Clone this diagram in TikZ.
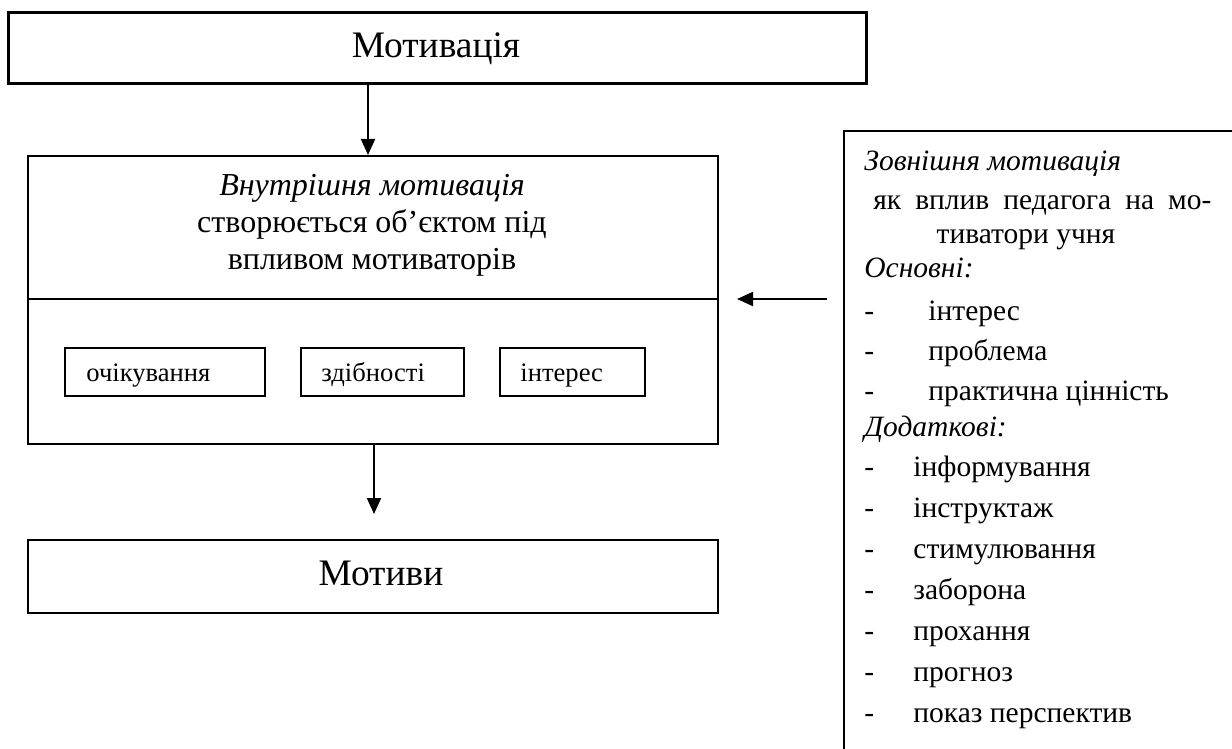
\documentclass[tikz,border=0pt]{standalone}
\usepackage{fontspec}
\setmainfont{Liberation Serif}
\usetikzlibrary{arrows.meta,calc}
\begin{document}
\begin{tikzpicture}[x=0.5pt,y=-0.5pt,
  box/.style={draw, line width=1pt, inner sep=0pt, anchor=north west},
  arr/.style={line width=1pt, -{Triangle[length=8pt,width=7pt]}},
  big/.style={font=\fontsize{18.7}{21}\selectfont, anchor=base, inner sep=0pt},
  mtext/.style={font=\fontsize{16}{18.5}\selectfont, anchor=base, inner sep=0pt},
  stext/.style={font=\fontsize{13.3}{15}\selectfont, anchor=base west, inner sep=0pt},
  rtext/.style={font=\fontsize{14.75}{17}\selectfont, anchor=base west, inner sep=0pt},
]
\useasboundingbox (0,0) rectangle (1232,749);
\clip (0,0) rectangle (1232,749);

% top box
\node[box, line width=1.5pt, minimum width=429pt, minimum height=35.5pt] (top) at (7,11) {};
\node[big] (topt) at (436,58) {Мотивація};

% middle box
\node[box, minimum width=345pt, minimum height=144pt] (mid) at (27,155) {};
\coordinate (dv) at (0,299);
\draw[line width=1pt] (mid.west |- dv) -- (mid.east |- dv);
\node[mtext] (m1) at (372,195) {\itshape Внутрішня мотивація};
\node[mtext] (m2) at (372,232) {створюється об’єктом під};
\node[mtext] (m3) at (372,269) {впливом мотиваторів};

% small boxes
\node[box, minimum width=100pt, minimum height=24pt] (b1) at (64,347) {};
\node[stext] (b1t) at (86,381) {очікування};
\node[box, minimum width=81.5pt, minimum height=24pt] (b2) at (300,347) {};
\node[stext] (b2t) at (321,381) {здібності};
\node[box, minimum width=72.5pt, minimum height=24pt] (b3) at (499,347) {};
\node[stext] (b3t) at (520,381) {інтерес};

% bottom box
\node[box, minimum width=345pt, minimum height=36.5pt] (bot) at (27,539) {};
\node[big] (bott) at (381,585) {Мотиви};

% right box (cut by the page edges)
\node[box, minimum width=400pt, minimum height=340pt] (ext) at (843,130) {};
\node[rtext] (r1) at (864,170) {\itshape Зовнішня мотивація};
\node[rtext] (r2) at (873,209) {\makebox[169pt][s]{як вплив педагога на мо-}};
\node[rtext, anchor=base] (r3) at (1026,243) {тиватори учня};
\node[rtext] (r4) at (864,278) {\itshape Основні:};
\node[rtext] (r5) at (864,320) {\makebox[32pt][l]{-}інтерес};
\node[rtext] (r6) at (864,360) {\makebox[32pt][l]{-}проблема};
\node[rtext] (r7) at (864,400) {\makebox[32pt][l]{-}практична цінність};
\node[rtext] (r8) at (864,436) {\itshape Додаткові:};
\node[rtext] (r9) at (864,476) {\makebox[24.5pt][l]{-}інформування};
\node[rtext] (r10) at (864,517) {\makebox[24.5pt][l]{-}інструктаж};
\node[rtext] (r11) at (864,558) {\makebox[24.5pt][l]{-}стимулювання};
\node[rtext] (r12) at (864,599) {\makebox[24.5pt][l]{-}заборона};
\node[rtext] (r13) at (864,640) {\makebox[24.5pt][l]{-}прохання};
\node[rtext] (r14) at (864,681) {\makebox[24.5pt][l]{-}прогноз};
\node[rtext] (r15) at (864,722) {\makebox[24.5pt][l]{-}показ перспектив};

% connectors
\coordinate (ax) at (368,0);
\draw[arr] (top.south -| ax) -- (mid.north -| ax);
\coordinate (bx) at (374,0);
\draw[arr, shorten >=12.5pt] (mid.south -| bx) -- (bot.north -| bx);
\draw[arr, shorten <=8pt, shorten >=9pt] (ext.west |- dv) -- (mid.east |- dv);
\end{tikzpicture}
\end{document}
